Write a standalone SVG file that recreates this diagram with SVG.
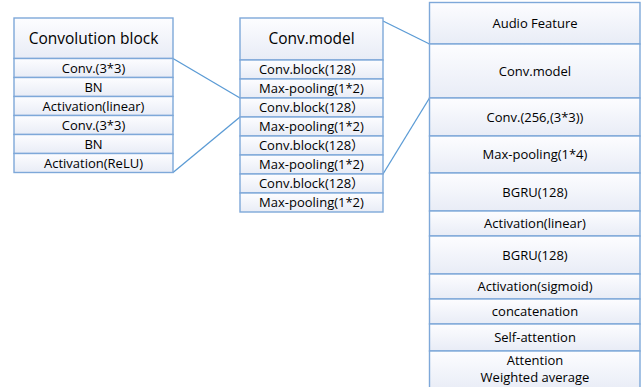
<svg xmlns="http://www.w3.org/2000/svg" width="641" height="387" viewBox="0 0 641 387">
<defs>
<linearGradient id="g" x1="0" y1="0" x2="0" y2="1">
<stop offset="0" stop-color="#fdfdff"/>
<stop offset="1" stop-color="#e8ecf6"/>
</linearGradient>
</defs>
<style>
rect{fill:url(#g);stroke:#7ea8d9;stroke-width:1.4}
text{font-family:"Open Sans","Noto Sans CJK SC",sans-serif;font-size:13px;fill:#000;text-anchor:middle}
.h{font-size:15.5px}
.c line{stroke:#5b9bd5;stroke-width:1.3}
</style>
<rect x="0" y="0" width="641" height="387" style="fill:#fff;stroke:none"/>
<g class="c" id="connectors">
<line x1="173" y1="58.5" x2="240" y2="98"/>
<line x1="173" y1="172.5" x2="240" y2="117"/>
<line x1="383" y1="21" x2="429.5" y2="44"/>
<line x1="383" y1="174" x2="429.5" y2="98"/>
</g>
<g id="conv-block">
<rect x="14" y="18" width="159" height="40.5"/>
<text class="h" x="93.5" y="44">Convolution block</text>
<rect x="14" y="58.5" width="159" height="19"/>
<text x="93.5" y="72.5">Conv.(3*3)</text>
<rect x="14" y="77.5" width="159" height="19"/>
<text x="93.5" y="91.5">BN</text>
<rect x="14" y="96.5" width="159" height="19"/>
<text x="93.5" y="110.5">Activation(linear)</text>
<rect x="14" y="115.5" width="159" height="19"/>
<text x="93.5" y="129.5">Conv.(3*3)</text>
<rect x="14" y="134.5" width="159" height="19"/>
<text x="93.5" y="148.5">BN</text>
<rect x="14" y="153.5" width="159" height="19"/>
<text x="93.5" y="167.5">Activation(ReLU)</text>
</g>
<g id="conv-model">
<rect x="240" y="18" width="143" height="42"/>
<text class="h" x="311.5" y="44">Conv.model</text>
<rect x="240" y="60" width="143" height="19"/>
<text x="311.5" y="74">Conv.block(128）</text>
<rect x="240" y="79" width="143" height="19"/>
<text x="311.5" y="93">Max-pooling(1*2)</text>
<rect x="240" y="98" width="143" height="19"/>
<text x="311.5" y="112">Conv.block(128）</text>
<rect x="240" y="117" width="143" height="19"/>
<text x="311.5" y="131">Max-pooling(1*2)</text>
<rect x="240" y="136" width="143" height="19"/>
<text x="311.5" y="150">Conv.block(128）</text>
<rect x="240" y="155" width="143" height="19"/>
<text x="311.5" y="169">Max-pooling(1*2)</text>
<rect x="240" y="174" width="143" height="19"/>
<text x="311.5" y="188">Conv.block(128）</text>
<rect x="240" y="193" width="143" height="19"/>
<text x="311.5" y="207">Max-pooling(1*2)</text>
</g>
<g id="network">
<rect x="429.5" y="2.5" width="210.5" height="41.5"/>
<text x="535" y="28">Audio Feature</text>
<rect x="429.5" y="44" width="210.5" height="54"/>
<text x="535" y="76">Conv.model</text>
<rect x="429.5" y="98" width="210.5" height="38"/>
<text x="535" y="122">Conv.(256,(3*3))</text>
<rect x="429.5" y="136" width="210.5" height="37"/>
<text x="535" y="159">Max-pooling(1*4)</text>
<rect x="429.5" y="173" width="210.5" height="38"/>
<text x="535" y="197">BGRU(128)</text>
<rect x="429.5" y="211" width="210.5" height="25"/>
<text x="535" y="228">Activation(linear)</text>
<rect x="429.5" y="236" width="210.5" height="38"/>
<text x="535" y="260">BGRU(128)</text>
<rect x="429.5" y="274" width="210.5" height="25"/>
<text x="535" y="291">Activation(sigmoid)</text>
<rect x="429.5" y="299" width="210.5" height="25"/>
<text x="535" y="316">concatenation</text>
<rect x="429.5" y="324" width="210.5" height="27"/>
<text x="535" y="342">Self-attention</text>
<rect x="429.5" y="351" width="210.5" height="40"/>
<text x="535" y="365">Attention</text>
<text x="535" y="382">Weighted average</text>
</g>
</svg>
